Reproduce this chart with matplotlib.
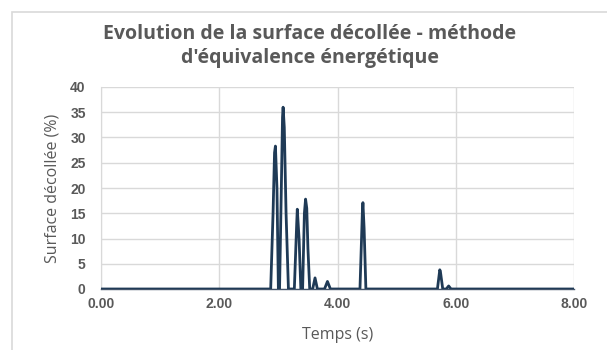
import matplotlib.pyplot as plt
from matplotlib.patches import Rectangle

# data
temps = [0.0, 2.87, 2.91, 2.935, 2.95, 2.976, 3.0,
         3.02, 3.05, 3.07, 3.08, 3.10, 3.13, 3.17,
         3.27, 3.31, 3.32, 3.35, 3.38,
         3.41, 3.44, 3.46, 3.48, 3.50, 3.53,
         3.58, 3.62, 3.66,
         3.78, 3.83, 3.88,
         4.38, 4.42, 4.43, 4.45, 4.48,
         5.69, 5.73, 5.74, 5.78,
         5.84, 5.88, 5.92, 8.0]
surface = [0, 0, 15, 27, 28.3, 20, 0,
           0, 20, 34, 36, 32, 15, 0,
           0, 13, 15.8, 10, 0,
           0, 15, 17.8, 16, 8, 0,
           0, 2.2, 0,
           0, 1.5, 0,
           0, 15, 17.1, 12, 0,
           0, 3.8, 3.5, 0,
           0, 0.6, 0, 0]

x_ticks = [0, 2, 4, 6, 8]
y_ticks = [0, 5, 10, 15, 20, 25, 30, 35, 40]

grey = '#595959'

fig = plt.figure(figsize=(6.07, 3.5), dpi=100)
ax = fig.add_axes([101/607, 1-289/350, 473/607, 202/350])

# chart border
fig.patches.append(Rectangle((12/607, -0.1), 1.0, 1-12/350+0.1, transform=fig.transFigure,
                             fill=False, edgecolor='#d9d9d9', linewidth=1.2))

ax.plot(temps, surface, color='#1f3a56', linewidth=2.0, solid_joinstyle='round', zorder=3)

ax.set_xlim(0, 8)
ax.set_ylim(0, 40)
ax.set_xticks(x_ticks)
ax.set_yticks(y_ticks)
ax.set_xticklabels(['%.2f' % v for v in x_ticks], fontfamily='Liberation Sans',
                   fontweight='bold', fontsize=10, color=grey)
ax.set_yticklabels([str(v) for v in y_ticks], fontfamily='Liberation Sans',
                   fontweight='bold', fontsize=10, color=grey)
ax.tick_params(axis='y', length=0, pad=11)
ax.tick_params(axis='x', length=0, pad=6)
ax.grid(True, color='#d9d9d9', linewidth=1.0)
ax.set_axisbelow(True)
for s in ['top', 'right']:
    ax.spines[s].set_visible(False)
ax.spines['left'].set_color('#d9d9d9')
ax.spines['bottom'].set_color('#44546a')
ax.spines['bottom'].set_linewidth(1.0)

ax.set_xlabel('Temps (s)', fontfamily='Open Sans', fontsize=11.5, color=grey, labelpad=11)
ax.set_ylabel('Surface décollée (%)', fontfamily='Open Sans', fontsize=11.5, color=grey, labelpad=7)

fig.text(310/607, 1-46/350, "Evolution de la surface décollée - méthode\nd'équivalence énergétique",
         ha='center', va='center', fontfamily='Open Sans', fontweight='bold',
         fontsize=14, color=grey, linespacing=1.3)

fig.savefig('out.png', dpi=100)
